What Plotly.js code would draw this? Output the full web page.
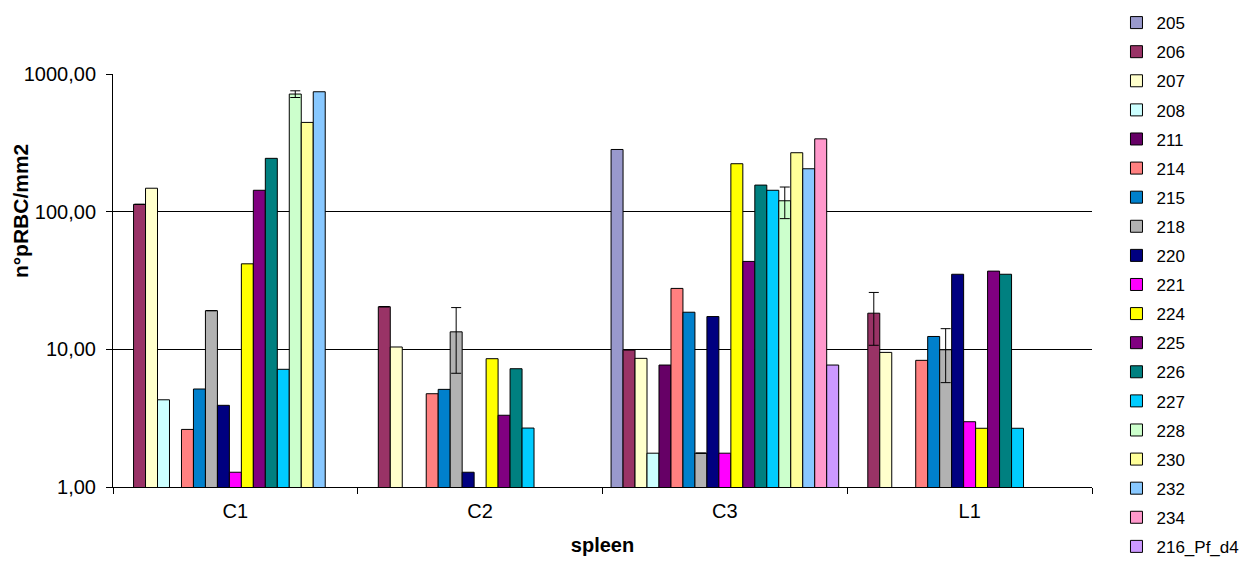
<!DOCTYPE html>
<html>
<head>
<meta charset="utf-8">
<script src="https://cdn.plot.ly/plotly-3.0.1.min.js"></script>
<style>html,body{margin:0;padding:0;background:#fff;}#chart{width:1250px;height:561px;}</style>
</head>
<body>
<div id="chart"></div>
<script>
var categories = ["C1", "C2", "C3", "L1"];
var seriesNames = ["205", "206", "207", "208", "211", "214", "215", "218", "220", "221", "224", "225", "226", "227", "228", "230", "232", "234", "216_Pf_d4"];
var seriesColors = ["#9999CC", "#993366", "#FFFFCC", "#CCFFFF", "#660066", "#FF8080", "#0080CC", "#B2B2B2", "#000080", "#FF00FF", "#FFFF00", "#800080", "#008080", "#00CCFF", "#CCFFCC", "#FFFF99", "#88C8FF", "#FF99CC", "#CC99FF"];
// values per series for C1, C2, C3, L1 (null = no bar)
var v205 = [null, null, 283, null];
var v206 = [113, 20.4, 9.93, 18.3];
var v207 = [148, 10.4, 8.6, 9.5];
var v208 = [4.3, null, 1.76, null];
var v211 = [null, null, 7.69, null];
var v214 = [2.62, 4.76, 27.7, 8.32];
var v215 = [5.15, 5.12, 18.6, 12.4];
var v218 = [19.1, 13.4, 1.76, 9.93];
var v220 = [3.92, 1.28, 17.3, 35.1];
var v221 = [1.28, null, 1.76, 2.98];
var v224 = [41.8, 8.55, 223, 2.67];
var v225 = [143, 3.32, 43.5, 37.0];
var v226 = [244, 7.23, 156, 35.1];
var v227 = [7.16, 2.68, 143, 2.67];
var v228 = [715, null, 120, null];
var v230 = [445, null, 268, null];
var v232 = [743, null, 205, null];
var v234 = [null, null, 338, null];
var v216 = [null, null, 7.69, null];
// error bars (± values) per series, null = none
var e206 = [null, null, null, 7.6];
var e218 = [null, 6.7, null, 4.2];
var e228 = [40, null, 31, null];

var seriesValues = [v205, v206, v207, v208, v211, v214, v215, v218, v220, v221, v224, v225, v226, v227, v228, v230, v232, v234, v216];
var seriesErrors = {"206": e206, "218": e218, "228": e228};

var yTickVals = [1, 10, 100, 1000];
var yTickText = ["1,00", "10,00", "100,00", "1000,00"];
var yTitle = "n°pRBC/mm2";
var xTitle = "spleen";

var FONT = "Liberation Sans, Arial, sans-serif";

var traces = seriesNames.map(function (name, i) {
  var t = {
    type: "bar",
    name: name,
    x: categories,
    y: seriesValues[i],
    legendgroup: "g" + i,
    marker: {color: seriesColors[i], line: {color: "#000000", width: 1}}
  };
  if (seriesErrors[name]) {
    t.error_y = {type: "data", array: seriesErrors[name], visible: true, color: "#000000", thickness: 1, width: 5, symmetric: true};
  }
  return t;
});

var layout = {
  width: 1250,
  height: 561,
  paper_bgcolor: "#ffffff",
  plot_bgcolor: "#ffffff",
  margin: {l: 113, r: 158, t: 74, b: 74, autoexpand: false},
  barmode: "group",
  bargap: 0.07,
  bargroupgap: 0,
  font: {family: FONT, color: "#000000", size: 20},
  showlegend: true,
  legend: {
    x: 1.025, xanchor: "left",
    y: 1.167, yanchor: "top",
    maxheight: 600,
    font: {size: 17, family: FONT},
    tracegroupgap: 4,
    bgcolor: "rgba(0,0,0,0)",
    traceorder: "grouped"
  },
  xaxis: {
    type: "category",
    showline: true, linecolor: "#000000", linewidth: 1,
    ticks: "outside", ticklen: 6, tickcolor: "#000000",
    tickson: "boundaries",
    ticklabelstandoff: 6,
    showgrid: false,
    tickfont: {size: 20},
    title: {text: xTitle, font: {size: 20, family: FONT, weight: "bold"}, standoff: 16}
  },
  yaxis: {
    type: "log",
    range: [0, 3],
    tickvals: yTickVals,
    ticktext: yTickText,
    showline: true, linecolor: "#000000", linewidth: 1,
    ticks: "outside", ticklen: 6, tickcolor: "#000000",
    ticklabelstandoff: 6,
    showgrid: true, gridcolor: "#000000", gridwidth: 1,
    zeroline: false,
    tickfont: {size: 20}
  },
  annotations: [{
    text: "<b>" + yTitle + "</b>",
    xref: "paper", yref: "paper",
    x: -0.095, y: 0.668,
    xanchor: "center", yanchor: "middle",
    textangle: -90,
    showarrow: false,
    font: {size: 21, family: FONT, color: "#000000"}
  }]
};

Plotly.newPlot("chart", traces, layout, {displayModeBar: false, staticPlot: true});
</script>
</body>
</html>
